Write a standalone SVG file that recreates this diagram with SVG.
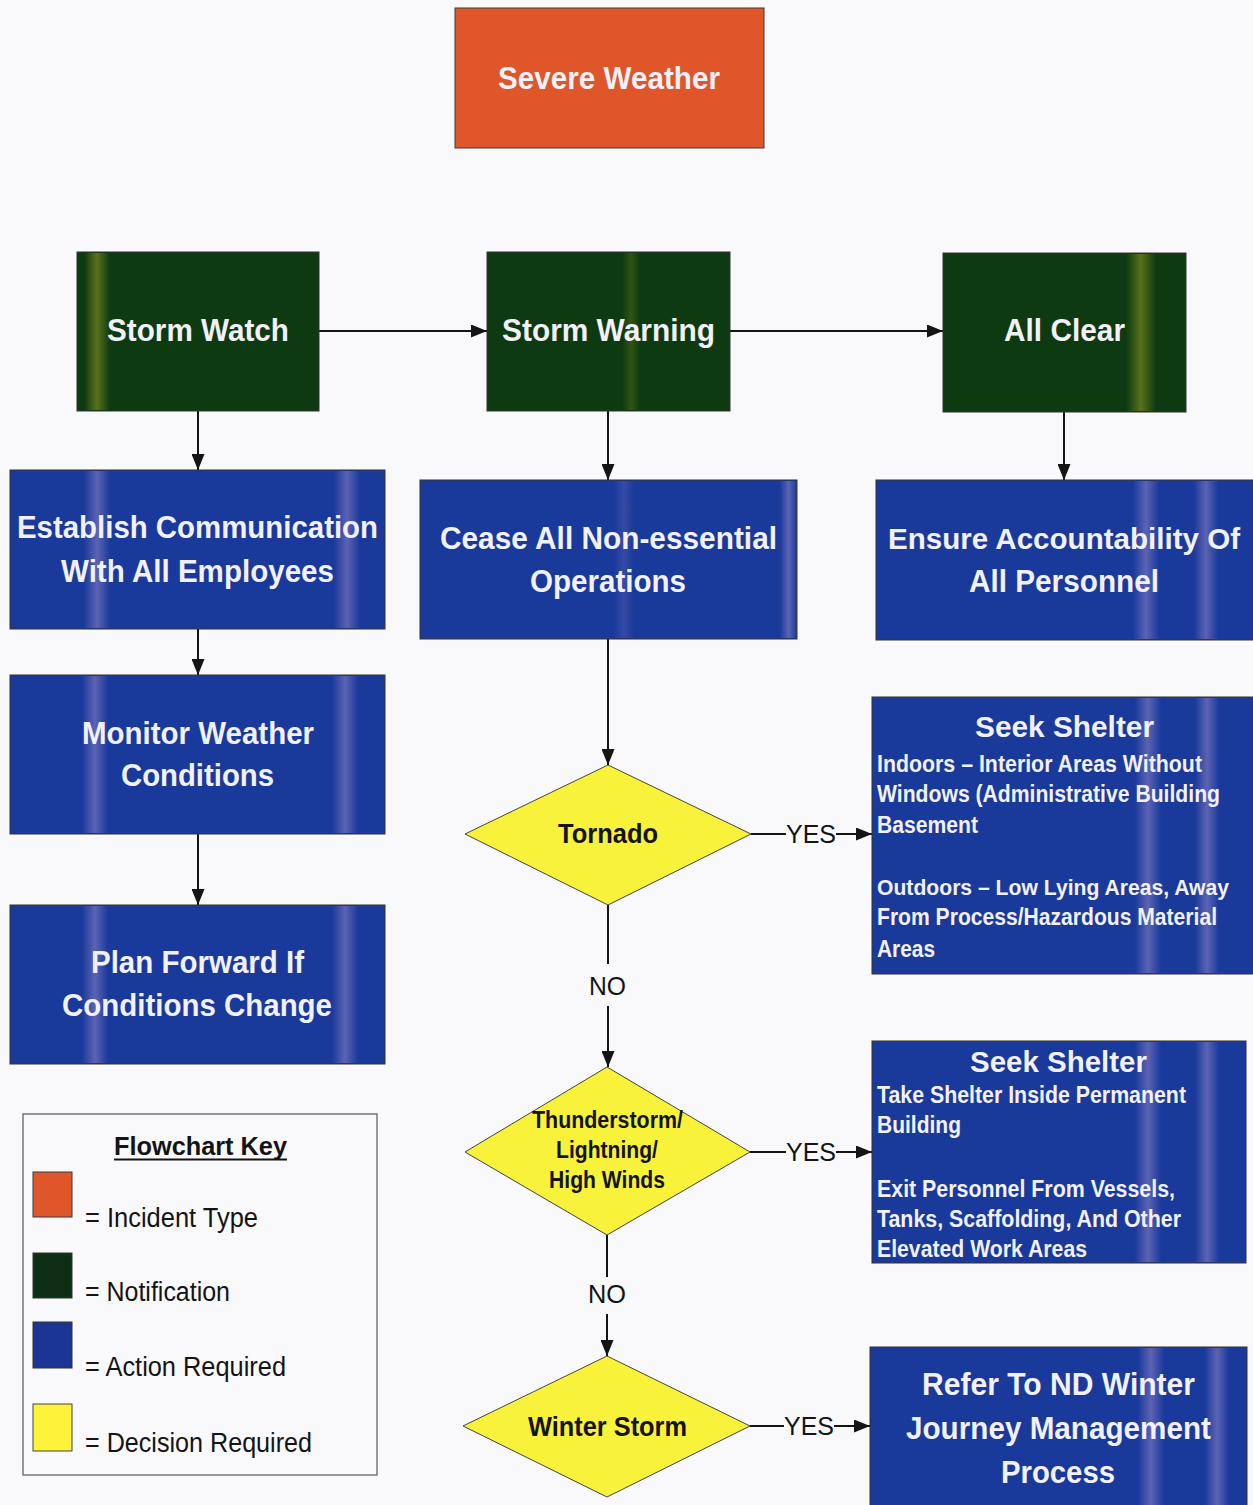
<svg xmlns="http://www.w3.org/2000/svg" width="1253" height="1505" viewBox="0 0 1253 1505">
<defs>
<style>
.t{font-family:"Liberation Sans",Arial,sans-serif;font-weight:bold;fill:#F2F0F8}
.d{font-family:"Liberation Sans",Arial,sans-serif;font-weight:bold;fill:#141414}
.r{font-family:"Liberation Sans",Arial,sans-serif;fill:#141414}
.inc{fill:#E0562B;stroke:#3a3a3a;stroke-width:1}
.note{fill:#0D3A10;stroke:#333;stroke-width:1}
.act{fill:#1A3A9B;stroke:#333;stroke-width:1}
.dec{fill:#F9F23A;stroke:#444;stroke-width:1}
.ln{stroke:#141414;stroke-width:2;fill:none}
</style>
<linearGradient id="sb" x1="0" y1="0" x2="1" y2="0">
<stop offset="0" stop-color="#C0A0D8" stop-opacity="0"/>
<stop offset="0.5" stop-color="#C0A0D8" stop-opacity="0.4"/>
<stop offset="1" stop-color="#C0A0D8" stop-opacity="0"/>
</linearGradient>
<linearGradient id="sg" x1="0" y1="0" x2="1" y2="0">
<stop offset="0" stop-color="#A8A828" stop-opacity="0"/>
<stop offset="0.5" stop-color="#A8A828" stop-opacity="0.5"/>
<stop offset="1" stop-color="#A8A828" stop-opacity="0"/>
</linearGradient>
<marker id="ah" markerUnits="userSpaceOnUse" markerWidth="16" markerHeight="13" refX="16" refY="6.5" orient="auto">
<path d="M0,0 L16,6.5 L0,13 z" fill="#141414"/>
</marker>
</defs>
<rect width="1253" height="1505" fill="#F9F9FB"/>

<g id="connectors">
<line class="ln" x1="319" y1="331" x2="487" y2="331" marker-end="url(#ah)"/>
<line class="ln" x1="730" y1="331" x2="943" y2="331" marker-end="url(#ah)"/>
<line class="ln" x1="198" y1="411" x2="198" y2="470" marker-end="url(#ah)"/>
<line class="ln" x1="198" y1="629" x2="198" y2="675" marker-end="url(#ah)"/>
<line class="ln" x1="198" y1="834" x2="198" y2="905" marker-end="url(#ah)"/>
<line class="ln" x1="608" y1="411" x2="608" y2="480" marker-end="url(#ah)"/>
<line class="ln" x1="1064" y1="412" x2="1064" y2="480" marker-end="url(#ah)"/>
<line class="ln" x1="608" y1="639" x2="608" y2="765" marker-end="url(#ah)"/>
<line class="ln" x1="608" y1="905" x2="608" y2="964"/>
<line class="ln" x1="608" y1="1006" x2="608" y2="1067" marker-end="url(#ah)"/>
<text class="r" x="589" y="995" font-size="25" textLength="37" lengthAdjust="spacingAndGlyphs">NO</text>
<line class="ln" x1="607" y1="1235" x2="607" y2="1277"/>
<line class="ln" x1="607" y1="1314" x2="607" y2="1356" marker-end="url(#ah)"/>
<text class="r" x="588" y="1303" font-size="25" textLength="38" lengthAdjust="spacingAndGlyphs">NO</text>
<line class="ln" x1="751" y1="834" x2="786" y2="834"/>
<text class="r" x="786" y="843" font-size="25" textLength="50" lengthAdjust="spacingAndGlyphs">YES</text>
<line class="ln" x1="836" y1="834" x2="872" y2="834" marker-end="url(#ah)"/>
<line class="ln" x1="750" y1="1152" x2="786" y2="1152"/>
<text class="r" x="786" y="1161" font-size="25" textLength="50" lengthAdjust="spacingAndGlyphs">YES</text>
<line class="ln" x1="836" y1="1152" x2="872" y2="1152" marker-end="url(#ah)"/>
<line class="ln" x1="750" y1="1426" x2="784" y2="1426"/>
<text class="r" x="784" y="1435" font-size="25" textLength="50" lengthAdjust="spacingAndGlyphs">YES</text>
<line class="ln" x1="834" y1="1426" x2="870" y2="1426" marker-end="url(#ah)"/>
</g>

<g id="severe-weather">
<rect class="inc" x="455" y="8" width="309" height="140"/>
<text class="t" x="498" y="89" font-size="32" textLength="222" lengthAdjust="spacingAndGlyphs">Severe Weather</text>
</g>

<g id="storm-watch">
<rect class="note" x="77" y="252" width="242" height="159"/>
<rect x="84" y="253" width="26" height="157" fill="url(#sg)"/>
<text class="t" x="107" y="341" font-size="32" textLength="182" lengthAdjust="spacingAndGlyphs">Storm Watch</text>
</g>

<g id="storm-warning">
<rect class="note" x="487" y="252" width="243" height="159"/>
<rect x="622" y="253" width="18" height="157" fill="url(#sg)" opacity="0.45"/>
<text class="t" x="502" y="341" font-size="32" textLength="213" lengthAdjust="spacingAndGlyphs">Storm Warning</text>
</g>

<g id="all-clear">
<rect class="note" x="943" y="253" width="243" height="159"/>
<rect x="1126" y="254" width="30" height="157" fill="url(#sg)"/>
<text class="t" x="1004" y="341" font-size="32" textLength="121" lengthAdjust="spacingAndGlyphs">All Clear</text>
</g>

<g id="establish-communication">
<rect class="act" x="10" y="470" width="375" height="159"/>
<rect x="84" y="471" width="26" height="157" fill="url(#sb)"/>
<rect x="334" y="471" width="26" height="157" fill="url(#sb)"/>
<text class="t" x="17" y="538" font-size="32" textLength="361" lengthAdjust="spacingAndGlyphs">Establish Communication</text>
<text class="t" x="61" y="582" font-size="32" textLength="273" lengthAdjust="spacingAndGlyphs">With All Employees</text>
</g>

<g id="cease-operations">
<rect class="act" x="420" y="480" width="377" height="159"/>
<rect x="614" y="481" width="20" height="157" fill="url(#sb)" opacity="0.4"/>
<rect x="780" y="481" width="17" height="157" fill="url(#sb)"/>
<text class="t" x="440" y="549" font-size="32" textLength="337" lengthAdjust="spacingAndGlyphs">Cease All Non-essential</text>
<text class="t" x="530" y="592" font-size="32" textLength="156" lengthAdjust="spacingAndGlyphs">Operations</text>
</g>

<g id="ensure-accountability">
<rect class="act" x="876" y="480" width="377" height="160"/>
<rect x="1133" y="481" width="26" height="158" fill="url(#sb)"/>
<rect x="1194" y="481" width="24" height="158" fill="url(#sb)"/>
<text class="t" x="888" y="549" font-size="30" textLength="352" lengthAdjust="spacingAndGlyphs">Ensure Accountability Of</text>
<text class="t" x="969" y="592" font-size="32" textLength="190" lengthAdjust="spacingAndGlyphs">All Personnel</text>
</g>

<g id="monitor-weather">
<rect class="act" x="10" y="675" width="375" height="159"/>
<rect x="82" y="676" width="26" height="157" fill="url(#sb)"/>
<rect x="332" y="676" width="26" height="157" fill="url(#sb)"/>
<text class="t" x="82" y="744" font-size="32" textLength="232" lengthAdjust="spacingAndGlyphs">Monitor Weather</text>
<text class="t" x="121" y="786" font-size="32" textLength="153" lengthAdjust="spacingAndGlyphs">Conditions</text>
</g>

<g id="plan-forward">
<rect class="act" x="10" y="905" width="375" height="159"/>
<rect x="82" y="906" width="26" height="157" fill="url(#sb)"/>
<rect x="332" y="906" width="26" height="157" fill="url(#sb)"/>
<text class="t" x="91" y="973" font-size="32" textLength="213" lengthAdjust="spacingAndGlyphs">Plan Forward If</text>
<text class="t" x="62" y="1016" font-size="32" textLength="270" lengthAdjust="spacingAndGlyphs">Conditions Change</text>
</g>

<g id="tornado">
<polygon class="dec" points="608,765 751,834 608,905 465,834"/>
<text class="d" x="558" y="843" font-size="27" textLength="100" lengthAdjust="spacingAndGlyphs">Tornado</text>
</g>

<g id="seek-shelter-tornado">
<rect class="act" x="872" y="697" width="381" height="277"/>
<rect x="1135" y="698" width="26" height="275" fill="url(#sb)"/>
<rect x="1195" y="698" width="24" height="275" fill="url(#sb)"/>
<text class="t" x="975" y="737" font-size="29" textLength="179" lengthAdjust="spacingAndGlyphs">Seek Shelter</text>
<text class="t" x="877" y="772" font-size="23" textLength="325" lengthAdjust="spacingAndGlyphs">Indoors – Interior Areas Without</text>
<text class="t" x="877" y="802" font-size="23" textLength="343" lengthAdjust="spacingAndGlyphs">Windows (Administrative Building</text>
<text class="t" x="877" y="833" font-size="23" textLength="101" lengthAdjust="spacingAndGlyphs">Basement</text>
<text class="t" x="877" y="895" font-size="22" textLength="352" lengthAdjust="spacingAndGlyphs">Outdoors – Low Lying Areas, Away</text>
<text class="t" x="877" y="925" font-size="23" textLength="340" lengthAdjust="spacingAndGlyphs">From Process/Hazardous Material</text>
<text class="t" x="877" y="957" font-size="23" textLength="58" lengthAdjust="spacingAndGlyphs">Areas</text>
</g>

<g id="thunderstorm">
<polygon class="dec" points="607,1067 750,1152 607,1235 465,1152"/>
<text class="d" x="532" y="1128" font-size="24" textLength="151" lengthAdjust="spacingAndGlyphs">Thunderstorm/</text>
<text class="d" x="556" y="1158" font-size="24" textLength="102" lengthAdjust="spacingAndGlyphs">Lightning/</text>
<text class="d" x="549" y="1188" font-size="24" textLength="116" lengthAdjust="spacingAndGlyphs">High Winds</text>
</g>

<g id="seek-shelter-thunderstorm">
<rect class="act" x="872" y="1041" width="374" height="222"/>
<rect x="1135" y="1042" width="26" height="220" fill="url(#sb)"/>
<rect x="1195" y="1042" width="24" height="220" fill="url(#sb)"/>
<text class="t" x="970" y="1072" font-size="29" textLength="177" lengthAdjust="spacingAndGlyphs">Seek Shelter</text>
<text class="t" x="877" y="1103" font-size="23" textLength="309" lengthAdjust="spacingAndGlyphs">Take Shelter Inside Permanent</text>
<text class="t" x="877" y="1133" font-size="23" textLength="84" lengthAdjust="spacingAndGlyphs">Building</text>
<text class="t" x="877" y="1197" font-size="23" textLength="298" lengthAdjust="spacingAndGlyphs">Exit Personnel From Vessels,</text>
<text class="t" x="877" y="1227" font-size="23" textLength="304" lengthAdjust="spacingAndGlyphs">Tanks, Scaffolding, And Other</text>
<text class="t" x="877" y="1257" font-size="23" textLength="210" lengthAdjust="spacingAndGlyphs">Elevated Work Areas</text>
</g>

<g id="winter-storm">
<polygon class="dec" points="607,1356 750,1426 607,1497 463,1426"/>
<text class="d" x="528" y="1436" font-size="27" textLength="159" lengthAdjust="spacingAndGlyphs">Winter Storm</text>
</g>

<g id="winter-journey">
<rect class="act" x="870" y="1347" width="377" height="160"/>
<rect x="1138" y="1348" width="26" height="157" fill="url(#sb)"/>
<rect x="1205" y="1348" width="24" height="157" fill="url(#sb)"/>
<text class="t" x="922" y="1395" font-size="32" textLength="273" lengthAdjust="spacingAndGlyphs">Refer To ND Winter</text>
<text class="t" x="906" y="1439" font-size="32" textLength="305" lengthAdjust="spacingAndGlyphs">Journey Management</text>
<text class="t" x="1001" y="1483" font-size="32" textLength="114" lengthAdjust="spacingAndGlyphs">Process</text>
</g>

<g id="flowchart-key">
<rect x="23" y="1114" width="354" height="361" fill="#F9F9FB" stroke="#555" stroke-width="1.2"/>
<text class="d" x="114" y="1155" font-size="26" textLength="173" lengthAdjust="spacingAndGlyphs">Flowchart Key</text>
<line x1="114" y1="1159.5" x2="287" y2="1159.5" stroke="#141414" stroke-width="2"/>
<rect class="inc" x="33" y="1172" width="39" height="45"/>
<rect x="33" y="1253" width="39" height="45" fill="#0E2E14" stroke="#333"/>
<rect x="33" y="1322" width="39" height="46" fill="#1A3595" stroke="#333"/>
<rect x="33" y="1404" width="39" height="47" fill="#FFF23A" stroke="#444"/>
<text class="r" x="85" y="1227" font-size="27" textLength="173" lengthAdjust="spacingAndGlyphs">= Incident Type</text>
<text class="r" x="85" y="1301" font-size="27" textLength="145" lengthAdjust="spacingAndGlyphs">= Notification</text>
<text class="r" x="85" y="1376" font-size="27" textLength="201" lengthAdjust="spacingAndGlyphs">= Action Required</text>
<text class="r" x="85" y="1452" font-size="27" textLength="227" lengthAdjust="spacingAndGlyphs">= Decision Required</text>
</g>
</svg>
